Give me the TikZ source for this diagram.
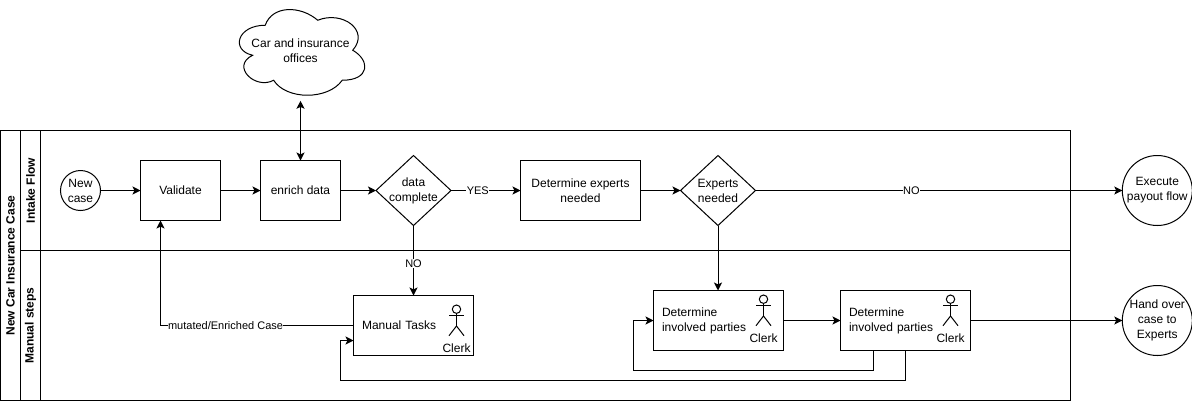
\documentclass[tikz,border=0pt]{standalone}
\usepackage{fontspec}
\setmainfont{Liberation Sans}
\usetikzlibrary{arrows.meta,shapes.geometric,calc}
\tikzset{
  every node/.append style={font=\fontsize{9pt}{11.25pt}\selectfont},
  ln/.style={line width=0.75pt,draw=black,outer sep=0pt},
  lane/.style={ln,rectangle,inner sep=0pt,anchor=north west},
  headtext/.style={rotate=90,inner sep=0pt,font=\fontsize{9pt}{11.25pt}\selectfont\bfseries},
  taskbox/.style={ln,rectangle,inner sep=0pt,minimum height=45pt,align=center},
  wide/.style={taskbox,minimum width=60pt},
  widest/.style={taskbox,minimum width=90pt},
  manual/.style={ln,rectangle,inner sep=0pt,inner xsep=6.4pt,minimum height=45pt,align=left},
  event/.style={ln,circle,inner sep=0pt},
  decision/.style={ln,diamond,inner sep=0pt,minimum width=56.25pt,minimum height=52.5pt},
  lbl/.style={inner sep=0pt,align=center},
  edgelbl/.style={fill=white,inner sep=0.3pt,align=center,font=\fontsize{8.25pt}{10.5pt}\selectfont},
  wire/.style={line width=0.75pt,-{Stealth[length=6pt,width=6pt,inset=1.4pt]}},
  both/.style={line width=0.75pt,{Stealth[length=6pt,width=6pt,inset=1.4pt]}-{Stealth[length=6pt,width=6pt,inset=1.4pt]}},
  clerk/.pic={
    \draw[line width=0.75pt] (0,4.2) circle[radius=4.2];
    \draw[line width=0.75pt] (-7.5,10) -- (7.5,10);
    \draw[line width=0.75pt] (0,8.4) -- (0,21);
    \draw[line width=0.75pt] (-7.5,30.7) -- (0,21) -- (7.5,30.7);
    \node[lbl] (-name) at (0,43.5) {Clerk};
  }
}
\begin{document}
\begin{tikzpicture}[x=0.75pt,y=-0.75pt]
\useasboundingbox (0,0) rectangle (1192,401);

% swimlanes
\node[lane,minimum width=802.5pt,minimum height=202.5pt] (pool) at (0.5,130.5) {};
\node[lane,minimum width=787.5pt,minimum height=90pt] (laneA) at (20.5,130.5) {};
\node[lane,minimum width=787.5pt,minimum height=112.5pt] (laneB) at (20.5,250.5) {};
\node[lane,minimum width=15pt,minimum height=90pt] (headA) at (20.5,130.5) {};
\node[lane,minimum width=15pt,minimum height=112.5pt] (headB) at (20.5,250.5) {};
\node[headtext] (poolT) at (10.5,265.5) {New Car Insurance Case};
\node[headtext] (headAT) at (headA) {Intake Flow};
\node[headtext] (headBT) at (headB) {Manual steps};

% cloud
\node[lbl,minimum width=105pt,minimum height=75pt] (cloud) at (300.5,50.5) {Car and insurance\\offices};
\draw[line width=0.75pt,shift={(cloud.north west)}]
  (35,25) .. controls (7,25) and (0,50) .. (22.4,55)
  .. controls (0,66) and (25.2,90) .. (43.4,80)
  .. controls (56,100) and (98,100) .. (112,80)
  .. controls (140,80) and (140,60) .. (122.5,50)
  .. controls (140,30) and (112,10) .. (87.5,20)
  .. controls (70,5) and (42,5) .. (35,25) -- cycle;

% top row
\node[event,minimum size=30pt] (new) at (80.5,190.5) {};
\node[lbl] (newT) at (new) {New\\case};
\node[wide] (validate) at (180.5,190.5) {Validate};
\node[wide] (enrich) at (300.5,190.5) {enrich data};
\node[decision] (dc) at (413.5,190.5) {};
\node[lbl] (dcT) at (dc) {data\\complete};
\node[widest] (exp) at (580.5,190.5) {Determine experts\\needed};
\node[decision] (en) at (718,190.5) {};
\node[lbl] (enT) at (en) {Experts\\needed};
\node[event,minimum size=52.5pt] (pay) at (1157.3,190.5) {};
\node[lbl] (payT) at (pay) {Execute\\payout flow};

% bottom row
\node[manual,text width=77.2pt] (mt) at (413.5,325.5) {Manual Tasks};
\node[manual,text width=84.7pt] (dp1) at (718.5,320.5) {Determine\\involved parties};
\node[manual,text width=84.7pt] (dp2) at (905.5,320.5) {Determine\\involved parties};
\node[event,minimum size=52.5pt] (hand) at (1157.3,320.5) {};
\node[lbl] (handT) at (hand) {Hand over\\case to\\Experts};

\pic (cm) at (456.5,305) {clerk};
\pic (c1) at (763.5,295) {clerk};
\pic (c2) at (950.5,295) {clerk};

% connectors
\draw[wire] (new) -- (validate);
\draw[wire] (validate) -- (enrich);
\draw[wire] (enrich) -- (dc);
\draw[wire] (dc) -- node[edgelbl,pos=0.385] (yes) {YES} (exp);
\draw[wire] (exp) -- (en);
\draw[wire] (en) -- node[edgelbl,pos=0.425] (no1) {NO} (pay);
\draw[both] (cloud.south) -- (enrich.north);
\draw[wire] (dc.south) -- node[edgelbl,pos=0.54] (no2) {NO} (dc.south |- mt.north);
\draw[wire] (en.south) -- (en.south |- dp1.north);
\draw[wire] (dp1) -- (dp2);
\draw[wire] (dp2) -- (hand);

\coordinate (vIn) at ($(validate.south west)!0.25!(validate.south east)$);
\coordinate (mCorner) at (vIn |- mt.west);
\coordinate (mutC) at ($(mt.west)!0.663!(mCorner)$);
\draw[wire] (mt.west) -- (mCorner) -- (vIn);
\node[edgelbl] (mut) at (mutC) {mutated/Enriched Case};

\coordinate (l1s) at ($(dp2.south west)!0.25!(dp2.south east)$);
\coordinate (l1c) at (633.5,370.5);
\coordinate (l1b) at (l1s |- l1c);
\draw[wire] (l1s) -- (l1b) -- (l1c) -- (l1c |- dp1.west) -- (dp1.west);

\coordinate (l2s) at (dp2.south);
\coordinate (l2c) at (340.5,380.5);
\coordinate (l2b) at (l2s |- l2c);
\coordinate (mIn) at ($(mt.north west)!0.75!(mt.south west)$);
\draw[wire] (l2s) -- (l2b) -- (l2c) -- (l2c |- mIn) -- (mIn);
\end{tikzpicture}
\end{document}
